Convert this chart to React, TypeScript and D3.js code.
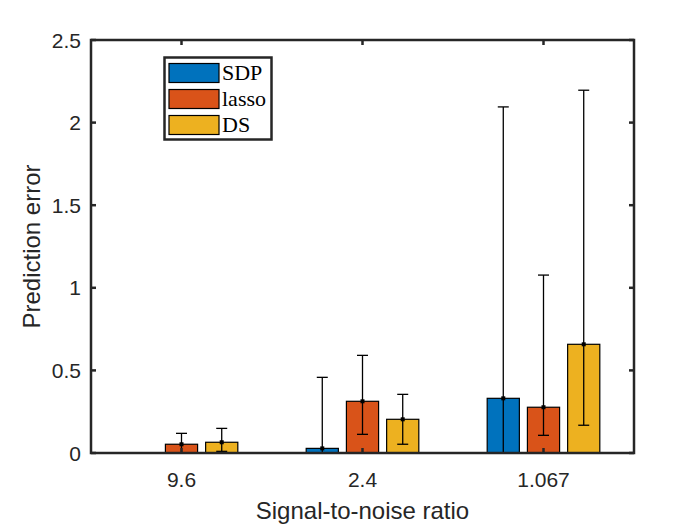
import React from 'react';
import * as d3 from 'd3';

// signal-to-noise ratio groups
const categories = ['9.6', '2.4', '1.067'];
const seriesNames = ['SDP', 'lasso', 'DS'];
const colors = ['#0072BD', '#D95319', '#EDB120'];

// mean prediction error per series (one value per category)
const sdpMean = [0, 0.028, 0.331];
const lassoMean = [0.053, 0.313, 0.277];
const dsMean = [0.065, 0.204, 0.658];

// error bar ends
const sdpUpper = [0, 0.458, 2.095];
const sdpLower = [0, -0.4, -1.43];
const lassoUpper = [0.119, 0.591, 1.077];
const lassoLower = [-0.01, 0.113, 0.107];
const dsUpper = [0.149, 0.355, 2.196];
const dsLower = [0.01, 0.053, 0.168];

const yTicks = [0, 0.5, 1, 1.5, 2, 2.5];

const W = 700;
const H = 526;
const margin = { top: 40, right: 66, bottom: 73, left: 91 };
const axisColor = '#262626';
const sans = '"Liberation Sans", Arial, Helvetica, sans-serif';
const serif = '"Liberation Serif", "Times New Roman", serif';

const App: React.FC = () => {
  const x0 = margin.left;
  const x1 = W - margin.right;
  const y0 = H - margin.bottom;
  const y1 = margin.top;

  const x = d3.scaleLinear().domain([0.5, 3.5]).range([x0, x1]);
  const y = d3.scaleLinear().domain([0, 2.5]).range([y0, y1]);

  // MATLAB style grouped bars: 3 bars, group width 2/3
  const offset = 2 / 9;
  const barW = x(1 + 0.8 * offset) - x(1);

  const means = [sdpMean, lassoMean, dsMean];
  const uppers = [sdpUpper, lassoUpper, dsUpper];
  const lowers = [sdpLower, lassoLower, dsLower];

  const series = seriesNames.map((name, j) => ({
    name,
    color: colors[j],
    points: categories.map((c, i) => ({
      cx: x(i + 1 + (j - 1) * offset),
      mean: means[j][i],
      upper: uppers[j][i],
      lower: lowers[j][i],
    })),
  }));

  const capHalf = 5.5;
  const tickLen = 5;

  return (
    <svg width={W} height={H} style={{ position: 'absolute', left: 0, top: 0, background: '#fff' }}>
      <defs>
        <clipPath id="plot">
          <rect x={x0} y={y1} width={x1 - x0} height={y0 - y1} />
        </clipPath>
      </defs>
      <rect x={0} y={0} width={W} height={H} fill="#fff" />

      <g clipPath="url(#plot)">
        {series.map(s => (
          <g key={s.name}>
            {s.points.map((p, i) => (
              <rect
                key={i}
                x={p.cx - barW / 2}
                y={y(p.mean)}
                width={barW}
                height={y(0) - y(p.mean)}
                fill={s.color}
                stroke="#000"
                strokeWidth={1.2}
              />
            ))}
          </g>
        ))}
        {series.map(s => (
          <g key={s.name + '-err'} stroke="#000" strokeWidth={1.3}>
            {s.points
              .filter(p => p.upper !== p.lower)
              .map((p, i) => (
                <g key={i}>
                  <line x1={p.cx} x2={p.cx} y1={y(p.lower)} y2={y(p.upper)} />
                  <line x1={p.cx - capHalf} x2={p.cx + capHalf} y1={y(p.upper)} y2={y(p.upper)} />
                  <line x1={p.cx - capHalf} x2={p.cx + capHalf} y1={y(p.lower)} y2={y(p.lower)} />
                  <rect x={p.cx - 2} y={y(p.mean) - 2} width={4} height={4} fill="#000" stroke="none" />
                </g>
              ))}
          </g>
        ))}
      </g>

      {/* axes box and ticks */}
      <g stroke={axisColor} strokeWidth={2.5}>
        {yTicks.map(t => (
          <g key={t}>
            <line x1={x0} x2={x0 + tickLen} y1={y(t)} y2={y(t)} />
            <line x1={x1} x2={x1 - tickLen} y1={y(t)} y2={y(t)} />
          </g>
        ))}
        {categories.map((c, i) => (
          <g key={c}>
            <line x1={x(i + 1)} x2={x(i + 1)} y1={y0} y2={y0 - tickLen} />
            <line x1={x(i + 1)} x2={x(i + 1)} y1={y1} y2={y1 + tickLen} />
          </g>
        ))}
        <rect x={x0} y={y1} width={x1 - x0} height={y0 - y1} fill="none" />
      </g>

      <g fill={axisColor} fontFamily={sans} fontSize={21}>
        {yTicks.map(t => (
          <text key={t} x={x0 - 10} y={y(t) + 7.5} textAnchor="end">
            {d3.format('~g')(t)}
          </text>
        ))}
        {categories.map((c, i) => (
          <text key={c} x={x(i + 1)} y={y0 + 34} textAnchor="middle">
            {c}
          </text>
        ))}
      </g>

      <text
        x={(x0 + x1) / 2}
        y={519}
        textAnchor="middle"
        fontFamily={sans}
        fontSize={24}
        fill={axisColor}
      >
        Signal-to-noise ratio
      </text>
      <text
        transform={`translate(40,${(y0 + y1) / 2}) rotate(-90)`}
        textAnchor="middle"
        fontFamily={sans}
        fontSize={24}
        fill={axisColor}
      >
        Prediction error
      </text>

      {/* legend */}
      <g>
        <rect x={164.5} y={57.5} width={107} height={82} fill="#fff" stroke={axisColor} strokeWidth={2.5} />
        {series.map((s, j) => (
          <g key={s.name}>
            <rect x={169} y={63.5 + j * 26} width={50} height={19} fill={s.color} stroke="#000" strokeWidth={1.2} />
            <text x={222} y={79.5 + j * 26} fontFamily={serif} fontSize={22} fill="#000">
              {s.name}
            </text>
          </g>
        ))}
      </g>
    </svg>
  );
};

export default App;
